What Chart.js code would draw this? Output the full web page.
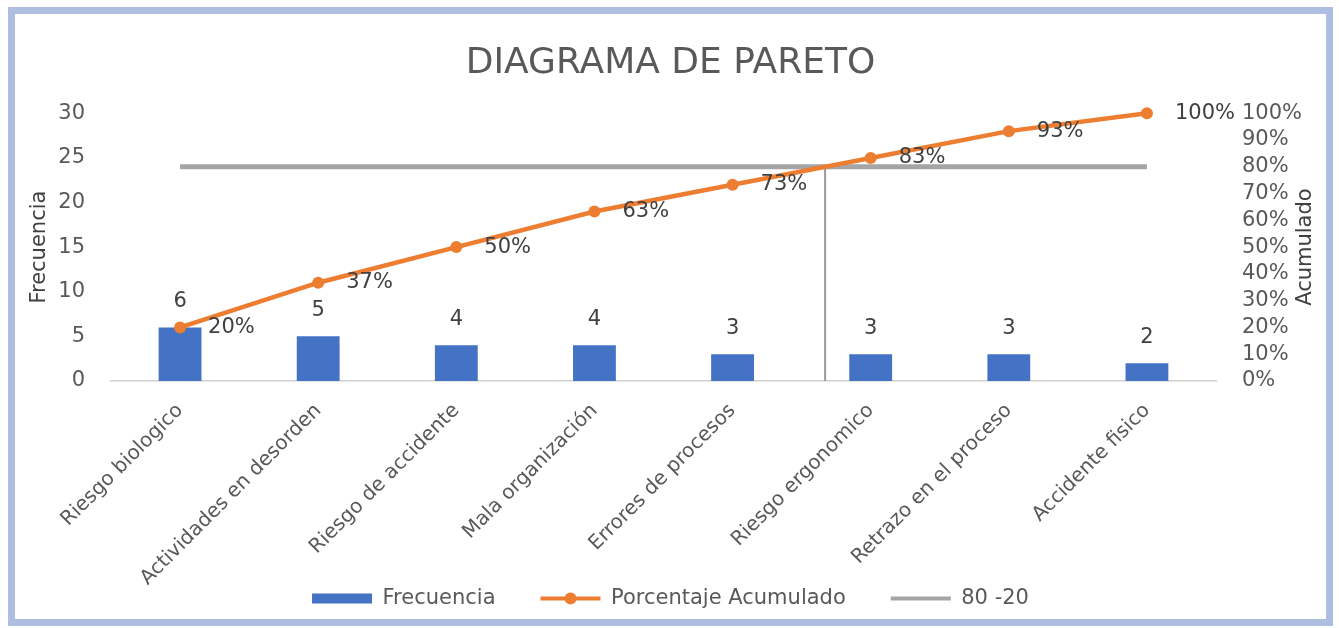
<!DOCTYPE html>
<html>
<head>
<meta charset="utf-8">
<script src="https://cdn.jsdelivr.net/npm/chart.js@4.4.0/dist/chart.umd.min.js"></script>
<style>
  html, body { margin: 0; padding: 0; background: #fff; }
  .marco { position: absolute; left: 8px; top: 7px; width: 1325px; height: 619px; box-sizing: border-box; border: 7px solid #aebee0; }
  .marco canvas { display: block; }
</style>
</head>
<body>
<div class="marco"><canvas id="pareto" width="1311" height="605"></canvas></div>
<script>
const categorias = ["Riesgo biologico", "Actividades en desorden", "Riesgo de accidente", "Mala organización",
  "Errores de procesos", "Riesgo ergonomico", "Retrazo en el proceso", "Accidente fisico"];
const frecuencia = [6, 5, 4, 4, 3, 3, 3, 2];
const porcentajeAcumulado = [20, 36.7, 50, 63.3, 73.3, 83.3, 93.3, 100];
const linea8020 = [80, 80, 80, 80, 80, 80, 80, 80];
// punto (en índice de categoría) donde el acumulado cruza el 80 %
const corte = 4.67;
const lineaCorte = [{ x: corte, y: 0 }, { x: corte, y: 80 }];

Chart.defaults.font.family = "'DejaVu Sans', sans-serif";
Chart.defaults.color = "#595959";

// valores sobre las barras, % junto a los puntos y título del eje derecho
const etiquetas = {
  id: "etiquetas",
  afterLayout(chart) {
    // deja que las etiquetas giradas del eje x bajen hasta la leyenda sin recortarse
    chart.scales.x.bottom = chart.height;
  },
  afterDatasetsDraw(chart) {
    const ctx = chart.ctx;
    ctx.save();
    ctx.font = "21px 'DejaVu Sans'";
    ctx.fillStyle = "#404040";
    ctx.textBaseline = "middle";
    ctx.textAlign = "center";
    chart.getDatasetMeta(0).data.forEach((barra, i) => {
      ctx.fillText(frecuencia[i], barra.x, barra.y - 26);
    });
    ctx.textAlign = "left";
    chart.getDatasetMeta(1).data.forEach((punto, i) => {
      ctx.fillText(Math.round(porcentajeAcumulado[i]) + "%", punto.x + 28, punto.y);
    });
    const area = chart.chartArea;
    ctx.translate(chart.width - 20, (area.top + area.bottom) / 2);
    ctx.rotate(-Math.PI / 2);
    ctx.textAlign = "center";
    ctx.fillText("Acumulado", 0, 0);
    ctx.restore();
  },
  afterDraw(chart) {
    // punto en la muestra de la línea acumulada de la leyenda
    const caja = chart.legend.legendHitBoxes[1];
    const ctx = chart.ctx;
    ctx.save();
    ctx.fillStyle = "#ED7D31";
    ctx.beginPath();
    ctx.arc(caja.left + 30, caja.top + 10.5, 6, 0, Math.PI * 2);
    ctx.fill();
    ctx.restore();
  }
};

const ctx = document.getElementById("pareto").getContext("2d");
new Chart(ctx, {
  type: "bar",
  data: {
    labels: categorias,
    datasets: [{
      label: "Frecuencia",
      data: frecuencia,
      backgroundColor: "#4472C4",
      categoryPercentage: 1,
      barPercentage: 0.31,
      grouped: false,
      yAxisID: "y",
      order: 4
    }, {
      type: "line",
      label: "Porcentaje Acumulado",
      data: porcentajeAcumulado,
      borderColor: "#ED7D31",
      backgroundColor: "#ED7D31",
      borderWidth: 4.5,
      pointRadius: 6,
      pointBorderWidth: 0,
      tension: 0,
      clip: false,
      yAxisID: "y1",
      order: 1
    }, {
      type: "line",
      label: "80 -20",
      data: linea8020,
      borderColor: "#A5A5A5",
      backgroundColor: "#A5A5A5",
      borderWidth: 5,
      pointRadius: 0,
      yAxisID: "y1",
      order: 3
    }, {
      type: "line",
      label: "corte",
      data: lineaCorte,
      borderColor: "#9a9a9a",
      borderWidth: 2,
      pointRadius: 0,
      xAxisID: "xCorte",
      yAxisID: "y1",
      order: 2
    }]
  },
  options: {
    responsive: false,
    animation: false,
    layout: { padding: 0 },
    plugins: {
      title: {
        display: true,
        text: "DIAGRAMA DE PARETO",
        color: "#595959",
        font: { size: 36, weight: "normal" },
        padding: { top: 28, bottom: 28 }
      },
      legend: {
        position: "bottom",
        labels: {
          usePointStyle: true,
          pointStyleWidth: 60,
          boxHeight: 10,
          padding: 45,
          color: "#595959",
          font: { size: 21 },
          generateLabels: chart => chart.data.datasets.slice(0, 3).map((ds, i) => ({
            text: ds.label,
            datasetIndex: i,
            pointStyle: i === 0 ? "rect" : "line",
            fillStyle: ds.backgroundColor,
            strokeStyle: i === 0 ? ds.backgroundColor : ds.borderColor,
            lineWidth: i === 0 ? 0 : 4,
            fontColor: "#595959",
            hidden: false
          }))
        }
      },
      tooltip: { enabled: false }
    },
    scales: {
      x: {
        grid: { display: false, drawTicks: false },
        border: { display: true, color: "#d0d0d0", width: 1.5 },
        ticks: { autoSkip: false, maxRotation: 45, minRotation: 45, padding: 18, font: { size: 20 }, color: "#595959" },
        afterFit: s => { s.height = 162; }
      },
      xCorte: {
        type: "linear",
        display: false,
        offset: false,
        grid: { offset: false },
        min: -0.5,
        max: 7.5
      },
      y: {
        position: "left",
        min: 0,
        max: 30,
        grid: { display: false, drawTicks: false },
        border: { display: false },
        ticks: { stepSize: 5, padding: 26, font: { size: 21 }, color: "#595959" },
        title: { display: true, text: "Frecuencia", color: "#404040", font: { size: 21 }, padding: { top: 12 } },
        afterFit: s => { s.width = 96; }
      },
      y1: {
        position: "right",
        min: 0,
        max: 100,
        grid: { display: false, drawTicks: false },
        border: { display: false },
        ticks: { stepSize: 10, autoSkip: false, padding: 26, font: { size: 21 }, color: "#595959", callback: v => v + "%" },
        afterFit: s => { s.width = 110; }
      }
    }
  },
  plugins: [etiquetas]
});
</script>
</body>
</html>
